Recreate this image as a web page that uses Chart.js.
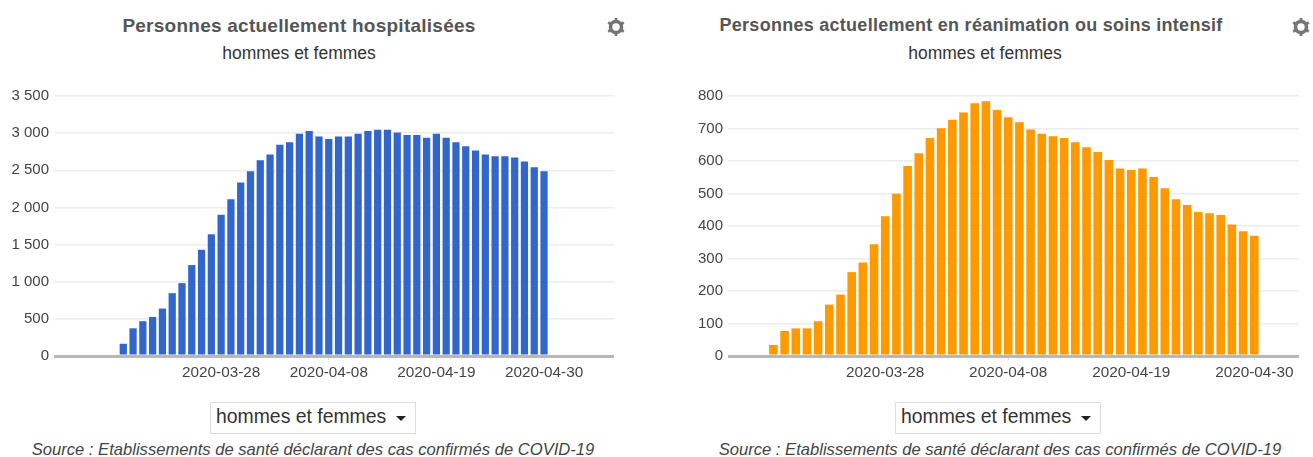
<!DOCTYPE html>
<html lang="fr">
<head>
<meta charset="utf-8">
<title>Personnes hospitalisées</title>
<script src="https://cdn.jsdelivr.net/npm/chart.js@4"></script>
<style>
  html { background: #fff; }
  html, body { margin: 0; padding: 0; }
  body { width: 1313px; height: 457px; position: relative; overflow: hidden; background: #fff; font-family: "Liberation Sans", Arial, sans-serif; filter: blur(0.45px); }
  .wrap { position: absolute; top: 80px; height: 310px; }
  .wrap canvas { display: block; }
  .txt { position: absolute; white-space: nowrap; transform: translateX(-50%); }
  .title { top: 15px; font-weight: bold; color: #555; }
  .sub { top: 43px; font-size: 17.5px; color: #333; }
  .source { top: 440px; font-size: 16.6px; font-style: italic; color: #444; }
  .select { position: absolute; top: 402px; width: 204px; height: 30px; border: 1px solid #ddd; box-sizing: content-box; font-size: 19.4px; color: #333; line-height: 27px; text-indent: 5px; }
  .select i { position: absolute; right: 9px; top: 13px; width: 0; height: 0; border: 5px solid transparent; border-top: 5px solid #222; border-bottom: 0; }
  .gear { position: absolute; top: 17px; width: 20px; height: 20px; }
</style>
</head>
<body>

<div class="txt title" style="left:299px;font-size:19px;letter-spacing:0.25px">Personnes actuellement hospitalisées</div>
<div class="txt sub" style="left:299px">hommes et femmes</div>
<svg class="gear" style="left:606px" viewBox="0 0 20 20"><use href="#gearShape"/></svg>
<div class="wrap" style="left:0;width:640px"><canvas id="chartHosp" width="640" height="310"></canvas></div>
<div class="select" style="left:210px">hommes et femmes<i></i></div>
<div class="txt source" style="left:313px">Source : Etablissements de santé déclarant des cas confirmés de COVID-19</div>

<div class="txt title" style="left:971px;font-size:18px;letter-spacing:0.27px">Personnes actuellement en réanimation ou soins intensif</div>
<div class="txt sub" style="left:985px">hommes et femmes</div>
<svg class="gear" style="left:1291px" viewBox="0 0 20 20"><use href="#gearShape"/></svg>
<div class="wrap" style="left:660px;width:653px"><canvas id="chartRea" width="653" height="310"></canvas></div>
<div class="select" style="left:895px">hommes et femmes<i></i></div>
<div class="txt source" style="left:1000px">Source : Etablissements de santé déclarant des cas confirmés de COVID-19</div>

<svg width="0" height="0" style="position:absolute">
  <g id="gearShape" fill="none" stroke="#757575">
    <circle cx="10" cy="10" r="5.5" stroke-width="3.6"/>
    <path stroke-width="2.8" d="M10 1v3M10 16v3M2.2 5.5l2.6 1.5M15.2 13l2.6 1.5M2.2 14.5l2.6-1.5M15.2 7l2.6-1.5"/>
  </g>
</svg>

<script>
// ---- Data, one value per day from 2020-03-18 to 2020-04-30 ----
const hospValues = [
  165, 373, 468, 526, 639, 846, 981, 1224, 1430, 1638, 1903, 2110, 2335, 2488, 2636,
  2713, 2843, 2879, 2992, 3028, 2956, 2920, 2956, 2956, 2992, 3028, 3046, 3046, 3010, 2974,
  2974, 2938, 2992, 2938, 2879, 2825, 2767, 2713, 2690, 2690, 2672, 2618, 2541, 2488
];
const reaValues = [
  34, 77, 85, 85, 107, 158, 189, 258, 288, 344, 430, 499, 585, 624, 671,
  701, 727, 749, 778, 784, 757, 735, 719, 697, 684, 676, 671, 658, 642, 628,
  603, 577, 572, 577, 551, 516, 482, 465, 443, 439, 434, 405, 384, 370
];

// ---- Axis ticks ----
const xTickDays   = [10, 21, 32, 43];
const xTickLabels = ['2020-03-28', '2020-04-08', '2020-04-19', '2020-04-30'];
const hospTicks   = [0, 500, 1000, 1500, 2000, 2500, 3000, 3500];
const reaTicks    = [0, 100, 200, 300, 400, 500, 600, 700, 800];

function formatTick(val) {
  return String(val).replace(/\B(?=(\d{3})+$)/g, ' ');
}

// ---- Shared bar chart ----
function drawChart(id, values, yTicks, color, o) {
  new Chart(document.getElementById(id).getContext('2d'), {
    type: 'bar',
    data: {
      datasets: [{
        data: values.map(function (v, i) { return { x: i, y: v }; }),
        backgroundColor: color,
        borderWidth: 0,
        barPercentage: o.barWidth,
        categoryPercentage: 1
      }]
    },
    options: {
      responsive: false,
      animation: false,
      layout: { padding: { top: 16, right: o.right, left: 0, bottom: 0 } },
      plugins: { legend: { display: false }, tooltip: { enabled: false } },
      scales: {
        x: {
          type: 'linear',
          offset: false,
          min: o.xMin,
          max: o.xMax,
          afterBuildTicks: function (scale) {
            scale.ticks = xTickDays.map(function (d) { return { value: d }; });
          },
          afterFit: function (scale) { scale.height = 34; },
          grid: { offset: false, drawOnChartArea: false, color: '#e0e0e0', tickLength: 4 },
          border: { display: false },
          ticks: {
            autoSkip: false,
            maxRotation: 0,
            padding: 4,
            color: '#444',
            font: { family: '"Liberation Sans"', size: 15.3 },
            callback: function (v) { return xTickLabels[xTickDays.indexOf(v)]; }
          }
        },
        y: {
          min: yTicks[0],
          max: yTicks[yTicks.length - 1],
          afterBuildTicks: function (scale) {
            scale.ticks = yTicks.map(function (v) { return { value: v }; });
          },
          afterFit: function (scale) { scale.width = o.yWidth; },
          grid: {
            drawTicks: false,
            color: function (c) { return c.tick.value === 0 ? '#b8b8b8' : '#ececec'; },
            lineWidth: function (c) { return c.tick.value === 0 ? 3 : 1.5; }
          },
          border: { display: false },
          ticks: {
            padding: 5,
            color: '#444',
            font: { family: '"Liberation Sans"', size: 15 },
            callback: formatTick
          }
        }
      }
    }
  });
}

drawChart('chartHosp', hospValues, hospTicks, '#3366cc',
  { right: 26, yWidth: 54, xMin: -7.08, xMax: 50.15, barWidth: 0.74 });
drawChart('chartRea', reaValues, reaTicks, '#ff9900',
  { right: 14, yWidth: 68, xMin: -4.06, xMax: 47, barWidth: 0.77 });
</script>
</body>
</html>
